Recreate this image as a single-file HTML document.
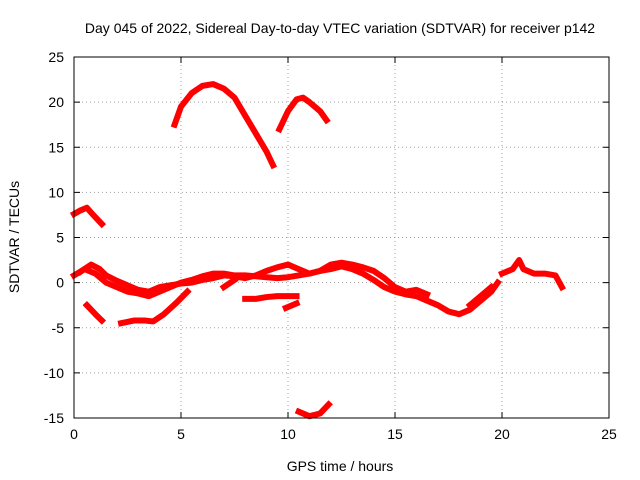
<!DOCTYPE html>
<html><head><meta charset="utf-8"><style>
body{margin:0;background:#fff}
svg{display:block;font-family:"Liberation Sans",sans-serif}
</style></head><body>
<svg id="c" width="640" height="480">
<text x="340" y="33" text-anchor="middle" font-size="14">Day 045 of 2022, Sidereal Day-to-day VTEC variation (SDTVAR) for receiver p142</text>
<text x="340" y="471" text-anchor="middle" font-size="14">GPS time / hours</text>
<text x="19" y="237" text-anchor="middle" font-size="14" transform="rotate(-90 19 237)">SDTVAR / TECUs</text>
<g id="grid"></g><g id="series"></g>
<rect x="74" y="57" width="535" height="361" fill="none" stroke="#000"/>
</svg>
<script>
const xTicks=[0,5,10,15,20,25];
const yTicks=[-15,-10,-5,0,5,10,15,20,25];
const arcTop=[[4.7,17.5],[5,19.5],[5.5,21],[6,21.8],[6.5,22],[7,21.5],[7.5,20.5],[8,18.5],[8.5,16.5],[9,14.5],[9.3,13]];
const arcSecond=[[9.6,17],[10,19],[10.4,20.3],[10.7,20.5],[11,20],[11.5,19],[11.8,18]];
const earlyHigh=[[0,7.6],[0.3,8],[0.6,8.3],[0.9,7.5],[1.3,6.5]];
const bottomArc=[[10.5,-14.3],[11,-14.8],[11.5,-14.5],[11.9,-13.5]];
const earlyLow=[[0.6,-2.5],[1,-3.5],[1.3,-4.2]];
const lowBand=[[2.2,-4.5],[2.8,-4.2],[3.3,-4.2],[3.7,-4.3],[4.2,-3.5],[4.8,-2.2],[5.3,-1]];
const mainLower=[[0,0.8],[0.5,1.5],[1,1],[1.5,0],[2,-0.5],[2.5,-1],[3,-1.2],[3.5,-1.5],[4,-1],[4.5,-0.5],[5,0],[5.5,0.3],[6,0.7],[6.5,1],[7,1],[7.5,0.8],[8,0.8],[8.5,0.7],[9,0.6],[9.5,0.5],[10,0.6],[10.5,0.8],[11,1],[11.5,1.3],[12,1.5],[12.5,1.8],[13,1.5],[13.5,1],[14,0.3],[14.5,-0.5],[15,-1],[15.5,-1.3],[16,-1.5],[16.5,-2],[17,-2.5],[17.5,-3.2],[18,-3.5],[18.5,-3],[19,-2],[19.5,-1],[19.8,0]];
const mainUpper=[[0.3,1.2],[0.8,2],[1.2,1.5],[1.5,0.8],[2,0.2],[2.5,-0.3],[3,-0.8],[3.5,-1],[4,-0.5],[4.5,-0.3],[5,-0.1],[5.5,0],[6,0.3],[6.5,0.5],[7,0.8],[7.5,0.7],[8,0.5],[8.5,0.8],[9,1.3],[9.5,1.7],[10,2],[10.5,1.5],[11,1],[11.5,1.3],[12,2],[12.5,2.2],[13,2],[13.5,1.7],[14,1.3],[14.5,0.5],[15,-0.5],[15.5,-1],[16,-0.8],[16.5,-1.3]];
const shortSeg=[[7,-0.5],[7.5,0.3]];
const midLow=[[8,-1.8],[8.5,-1.8],[9,-1.6],[9.5,-1.5],[10,-1.5],[10.4,-1.5]];
const midLow2=[[9.9,-2.8],[10.4,-2.3]];
const lateBand=[[20,1],[20.5,1.5],[20.8,2.5],[21,1.5],[21.5,1],[22,1],[22.5,0.8],[22.8,-0.5]];
const lateRise=[[18.5,-2.5],[19,-1.5],[19.5,-0.5]];
const allSeries=[arcTop,arcSecond,earlyHigh,bottomArc,earlyLow,lowBand,mainLower,mainUpper,shortSeg,midLow,midLow2,lateBand,lateRise];
const X0=74,X1=609,Y0=418,Y1=57;
const sx=v=>X0+(v-0)/(25-0)*(X1-X0);
const sy=v=>Y0-(v+15)/(40)*(Y0-Y1);
const ns="http://www.w3.org/2000/svg";
const grid=document.getElementById('grid');
function mk(t,a,p){const e=document.createElementNS(ns,t);for(const k in a)e.setAttribute(k,a[k]);p.appendChild(e);return e;}
xTicks.forEach(t=>{const x=sx(t);
 if(t>0&&t<25){const l=mk('line',{x1:x,x2:x,y1:Y1,y2:Y0,stroke:'#a0a0a0','stroke-dasharray':'1,3'},grid);
 
 }
 mk('line',{x1:x,x2:x,y1:Y0,y2:Y0-6,stroke:'#000'},grid);mk('line',{x1:x,x2:x,y1:Y1,y2:Y1+6,stroke:'#000'},grid);
 const tx=mk('text',{x:x,y:Y0+21,'text-anchor':'middle','font-size':14},grid);tx.textContent=t;
 
 });
yTicks.forEach(t=>{const y=sy(t);
 if(t>-15&&t<25){const l=mk('line',{x1:X0,x2:X1,y1:y,y2:y,stroke:'#a0a0a0','stroke-dasharray':'1,3'},grid);
 
 }
 mk('line',{x1:X0,x2:X0+6,y1:y,y2:y,stroke:'#000'},grid);mk('line',{x1:X1,x2:X1-6,y1:y,y2:y,stroke:'#000'},grid);
 const tx=mk('text',{x:X0-10,y:y+5,'text-anchor':'end','font-size':14},grid);tx.textContent=t;
 
 });
const sg=document.getElementById('series');
allSeries.forEach((s,i)=>{
 const p=mk('polyline',{points:s.map(d=>sx(d[0])+','+sy(d[1])).join(' '),fill:'none',stroke:'#ff0000','stroke-width':6,'stroke-linejoin':'round','stroke-linecap':'square'},sg);
 
 
});
</script>
</body></html>
